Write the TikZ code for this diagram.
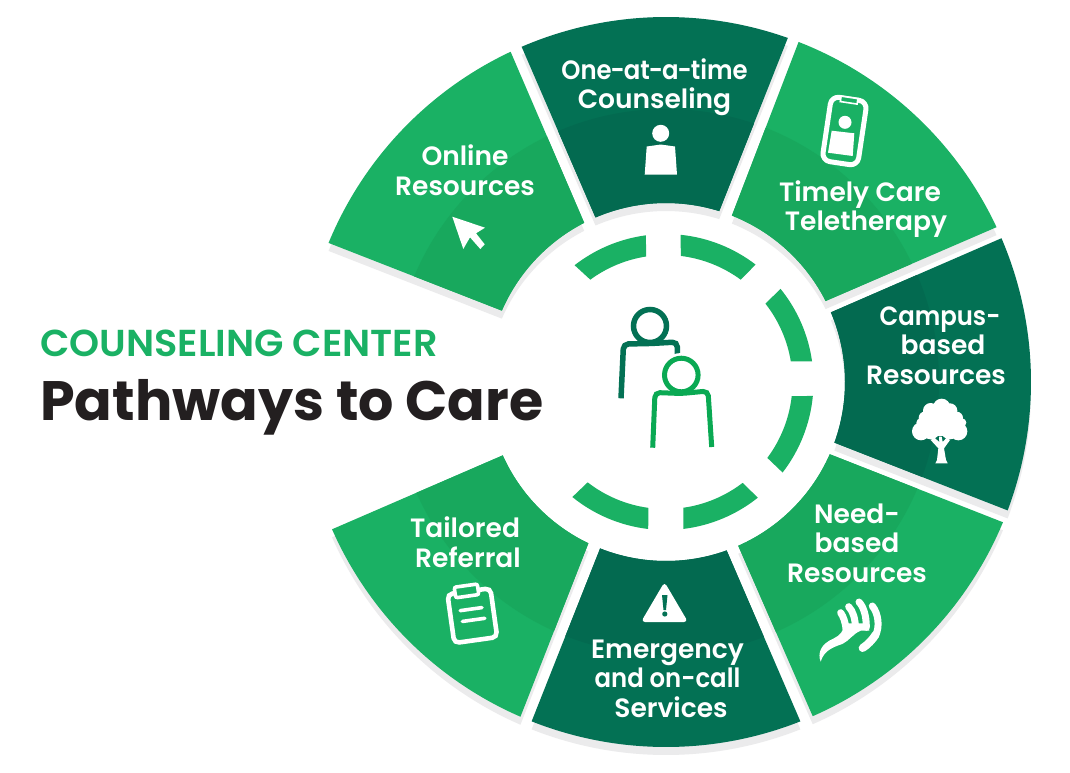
\documentclass[tikz,border=0pt]{standalone}
\usepackage{fontspec}
\newfontfamily\segfont{Poppins SemiBold}
\newfontfamily\segnarrow{Poppins SemiBold}[FakeStretch=0.92]
\newfontfamily\topfont{Poppins SemiBold}[FakeStretch=1.02]
\newfontfamily\bigfont{Poppins Bold}
\definecolor{lgreen}{HTML}{1AB164}
\definecolor{mgreen}{HTML}{18A85D}
\definecolor{dgreen}{HTML}{037154}
\definecolor{ddgreen}{HTML}{036A50}
\definecolor{shadowgray}{HTML}{EBEBEC}
\definecolor{titleblack}{HTML}{231F20}
\definecolor{persongreen}{HTML}{0AA953}
\newcommand{\segpath}[4]{(#1:365) arc[start angle=#1,end angle=#2,radius=365] -- (#3:179) arc[start angle=#3,end angle=#4,radius=179] -- cycle}
\newcommand{\wheelshadow}[4]{\fill[shadowgray,shift={(0,-8)}] \segpath{#1}{#2}{#3}{#4};}
\newcommand{\wheelseg}[6]{\fill[#5] \segpath{#1}{#2}{#3}{#4};
  \begin{scope}\clip \segpath{#1}{#2}{#3}{#4}; \fill[#6] (0,0) circle[radius=273];\end{scope}}
\newcommand{\ringseg}[4]{\fill[lgreen] (#1:148) arc[start angle=#1,end angle=#2,radius=148] -- (#3:127) arc[start angle=#3,end angle=#4,radius=127] -- cycle;}
\newcommand{\hy}{\kern-1pt-\kern-1pt}
\tikzset{
  seglabel/.style={text=white,font=\segfont\fontsize{26.5}{29.5}\selectfont,align=center,inner sep=0pt,anchor=base},
  iconline/.style={draw=white,line width=5pt,line join=round},
}
\begin{document}
\begin{tikzpicture}[x=1pt,y=-1pt]
\useasboundingbox (0,0) rectangle (1070,772);
\fill[white] (0,0) rectangle (1070,772);
\begin{scope}[shift={(666,382)},y=1pt]
 \wheelshadow{115.2}{157.6}{156.5}{117.2}
 \wheelshadow{70.5}{113.3}{113.2}{72.7}
 \wheelshadow{25.1}{68.7}{68.4}{26.9}
 \wheelshadow{-20.6}{23.2}{22.9}{-19.8}
 \wheelshadow{-66.3}{-22.6}{-23.8}{-66.2}
 \wheelshadow{-111.6}{-68.4}{-70.2}{-111.6}
 \wheelshadow{-156.2}{-113.5}{-115.7}{-155.8}
 \wheelseg{115.2}{157.6}{156.5}{117.2}{lgreen}{mgreen}
 \wheelseg{70.5}{113.3}{113.2}{72.7}{dgreen}{ddgreen}
 \wheelseg{25.1}{68.7}{68.4}{26.9}{lgreen}{mgreen}
 \wheelseg{-20.6}{23.2}{22.9}{-19.8}{dgreen}{ddgreen}
 \wheelseg{-66.3}{-22.6}{-23.8}{-66.2}{lgreen}{mgreen}
 \wheelseg{-111.6}{-68.4}{-70.2}{-111.6}{dgreen}{ddgreen}
 \wheelseg{-156.2}{-113.5}{-115.7}{-155.8}{lgreen}{mgreen}
 \begin{scope}[shift={(-0.5,0)}]
  \ringseg{97.6}{127.9}{126.3}{98.8}
  \ringseg{52.5}{84.1}{83.1}{53.7}
  \ringseg{8.0}{39.0}{38.1}{9.3}
  \ringseg{-37.7}{-5.4}{-6.4}{-36.7}
  \ringseg{-83.1}{-51.4}{-52.6}{-81.9}
  \ringseg{-129.0}{-96.7}{-97.8}{-127.8}
 \end{scope}
\end{scope}

% centre figures
\draw[dgreen,line width=5.5pt] (650,326) circle[radius=16.5];
\draw[dgreen,line width=5.5pt,rounded corners=5pt] (621,398.3) -- (623.5,344) -- (650,343.5) -- (677.3,342) -- (677.3,358);
\fill[white] (681.3,375) circle[radius=22];
\draw[persongreen,line width=5pt] (681.3,375) circle[radius=16.8];
\draw[persongreen,line width=5pt,rounded corners=5pt] (652.7,447.7) -- (655,392.5) -- (681.3,393.5) -- (708,391) -- (711.7,447);

% one-at-a-time icon
\fill[white] (660.7,133.3) circle[radius=8.5];
\fill[white] (646.7,146.5) -- (660.7,144.5) -- (675,146.5) -- (677,174.7) -- (644.7,174.7) -- cycle;

% cursor icon
\fill[white] (452.3,216.7) -- (485,227.7) -- (476,233.3) -- (484.7,244.3) -- (480.3,249) -- (470,237.3) -- (463.3,249) -- cycle;

% phone icon
\begin{scope}[rotate around={-8.5:(844.5,131)}]
 \draw[iconline,rounded corners=8pt] (826.5,98.5) rectangle (862.5,163.5);
 \draw[white,line width=1.6pt,fill=lgreen] (836,97) rectangle (853,102.5);
\end{scope}
\fill[white] (845,122.3) circle[radius=6.5];
\fill[white] (831.7,130.7) -- (854.3,133.3) -- (852.7,156) -- (828,152.7) -- cycle;

% tree icon
\begin{scope}[shift={(900,390)},x=0.3333pt,y=-0.3333pt]
 \fill[white] (125,52) circle[radius=26] (92,62) circle[radius=23] (150,62) circle[radius=22]
   (76,84) circle[radius=20] (170,84) circle[radius=19] (62,98) circle[radius=13] (186,98) circle[radius=13]
   (63,124) circle[radius=27] (175,124) circle[radius=27] (120,92) circle[radius=46] (92,120) circle[radius=28] (150,120) circle[radius=28];
 \fill[white] (106,220) -- (143,220) -- (138,210) -- (132,175) -- (150,150) -- (140,143) -- (128,156) -- (125,140) -- (117,140) -- (118,156) -- (103,143) -- (92,150) -- (115,175) -- (111,210) -- cycle;
\end{scope}

% hand icon
\begin{scope}[shift={(810,590)},x=0.3333pt,y=-0.3333pt]
 \fill[white] (32,215) .. controls (22,190) and (32,162) .. (70,146) .. controls (90,136) and (100,125) .. (105,100) -- (175,100) -- (178,122) -- (152,122) .. controls (128,132) and (118,152) .. (97,162) .. controls (67,172) and (42,182) .. (32,215) -- cycle;
 \draw[white,line width=7pt,line cap=round] (92,68) .. controls (100,80) and (106,95) .. (108,118);
 \draw[white,line width=7pt,line cap=round] (116,50) .. controls (130,65) and (135,85) .. (137,115);
 \draw[white,line width=7pt,line cap=round] (147,36) .. controls (160,50) and (169,75) .. (169,112);
 \draw[white,line width=7pt,line cap=round] (187,48) .. controls (205,70) and (210,110) .. (197,135);
 \draw[white,line width=8pt,line cap=round] (197,134) .. controls (187,150) and (172,165) .. (158,174);
\end{scope}

% warning icon
\fill[white,rounded corners=4pt] (664.5,582) -- (688,622) -- (641,622) -- cycle;
\fill[dgreen] (662,595) -- (667.5,595) -- (666,610) -- (663.5,610) -- cycle;
\fill[dgreen] (664.8,614) circle[radius=2.6];

% clipboard icon
\begin{scope}[shift={(435,575)},x=0.3333pt,y=-0.3333pt]
 \begin{scope}[rotate around={8:(112,122)}]
  \draw[white,line width=4.6pt,rounded corners=5pt] (47,48) rectangle (177,196);
  \draw[white,line width=3.6pt,rounded corners=2pt,fill=lgreen] (70,30) rectangle (140,62);
  \draw[white,line width=3.6pt,line cap=round] (78,102) -- (144,102);
  \draw[white,line width=3.6pt,line cap=round] (80,135) -- (148,135);
 \end{scope}
\end{scope}

% labels
\node[seglabel] (one) at (654.5,108.7) {{\segnarrow One\hy at\hy a\hy time}\\Counseling};
\node[seglabel] (online) at (465,195) {Online\\Resources};
\node[seglabel] (timely) at (860,230.5) {Timely Care\\\hspace*{12pt}Teletherapy};
\node[seglabel] (campus) at (940,384) {{\segnarrow Campus-}\\\hspace*{6pt}based\\\hspace*{-8pt}Resources};
\node[seglabel] (need) at (857,582) {Need-\\based\\Resources};
\node[seglabel] (emerg) at (667.5,717) {Emergency\\{\segnarrow and on-call}\\\hspace*{7pt}Services};
\node[seglabel] (tailored) at (465,567) {Tailored\\\hspace*{6pt}Referral};
\node[inner sep=0pt,anchor=base west,text=lgreen,font=\topfont\fontsize{37.5}{40}\selectfont] (ttl1) at (40,356) {COUNSELING CENTER};
\node[inner sep=0pt,anchor=base west,text=titleblack,font=\bigfont\fontsize{55.5}{60}\selectfont] (ttl2) at (40,420) {Pathways to Care};
\end{tikzpicture}
\end{document}
